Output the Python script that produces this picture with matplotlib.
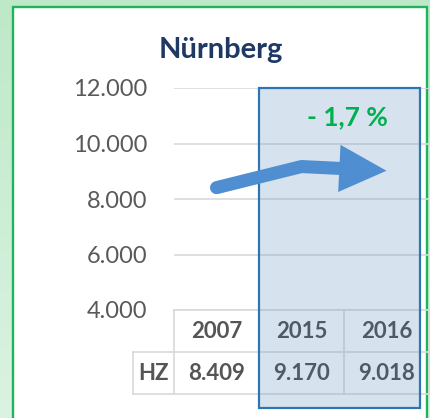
import matplotlib
matplotlib.use("Agg")
import matplotlib.pyplot as plt
import matplotlib.transforms as mtransforms
from matplotlib.patches import Rectangle
from matplotlib.colors import LinearSegmentedColormap
import numpy as np

plt.rcParams['font.family'] = ['Lato', 'DejaVu Sans']

# ---- data ----
title = "Nürnberg"
years = ["2007", "2015", "2016"]
values = [8409, 9170, 9018]
row_label = "HZ"
yticks = [4000, 6000, 8000, 10000, 12000]
highlight_from = 1  # index of first highlighted column

W, H = 431, 418
fig = plt.figure(figsize=(W / 100, H / 100), dpi=100)

# background gradient
bg = fig.add_axes([0, 0, 1, 1])
bg.axis("off")
cmap = LinearSegmentedColormap.from_list("g", ["#bde9c8", "#dbf3e2"])
bg.imshow(np.linspace(0, 1, 256).reshape(-1, 1), cmap=cmap, aspect="auto",
          extent=[0, 1, 0, 1])
bg.set_xlim(0, 1)
bg.set_ylim(0, 1)
bg.add_patch(Rectangle((13 / W, -0.05), (427 - 13) / W, (1 - 7 / H) + 0.05,
                       facecolor="white", edgecolor="#1fb35a", lw=1.7,
                       transform=bg.transAxes))

# main axes
ax = fig.add_axes([174 / W, 1 - 310 / H, 255 / W, 222 / H])
ax.set_facecolor("none")
ax.set_xlim(-0.5, 2.5)
ax.set_ylim(4000, 12000)
ax.set_yticks(yticks)
ax.set_yticklabels([f"{v:,.0f}".replace(",", ".") for v in yticks],
                   fontsize=17, color="#595959")
ax.tick_params(axis="y", length=0, pad=19)
ax.set_xticks([])
for s in ax.spines.values():
    s.set_visible(False)
ax.grid(axis="y", color="#d9d9d9", lw=1.2, zorder=0)
ax.set_axisbelow(True)

idx = np.arange(len(years))
trans = mtransforms.blended_transform_factory(ax.transData, ax.transAxes)
rh = 42 / 222
lc = "#d9d9d9"
lw_t = 1.2
xl = -0.98
# table lines
ax.plot([-0.5, 2.5], [0, 0], color=lc, lw=lw_t, transform=trans, clip_on=False, zorder=1)
for yy in (-rh, -2 * rh):
    ax.plot([xl, 2.5], [yy, yy], color=lc, lw=lw_t, transform=trans, clip_on=False, zorder=1)
ax.plot([xl, xl], [-rh, -2 * rh], color=lc, lw=lw_t, transform=trans, clip_on=False, zorder=1)
for xx in (-0.5, 0.5, 1.5, 2.5):
    ax.plot([xx, xx], [0, -2 * rh], color=lc, lw=lw_t, transform=trans, clip_on=False, zorder=1)
# table text
for i, (yr, v) in enumerate(zip(years, values)):
    tc = "#4f5a66" if i >= highlight_from else "#555555"
    ax.text(i, -rh / 2, yr, transform=trans, ha="center", va="center",
            fontsize=16, fontweight="bold", color=tc, zorder=4)
    ax.text(i, -1.5 * rh, f"{v:,.0f}".replace(",", "."), transform=trans,
            ha="center", va="center", fontsize=16, fontweight="bold",
            color=tc, zorder=4)
ax.text((xl - 0.5) / 2, -1.5 * rh, row_label, transform=trans, ha="center",
        va="center", fontsize=16, fontweight="bold", color="#555555", zorder=4)

# highlight rectangle (translucent tint)
ax.add_patch(Rectangle((highlight_from - 0.5, -98 / 222), (420 - 259) / 85, 1 + 98 / 222,
                       facecolor=(0.425, 0.607, 0.79, 0.28), edgecolor="#2e75b6",
                       lw=1.6, transform=trans, clip_on=False, zorder=3))

# arrow line
c = "#4f8fd1"
ax.plot(idx[:2], values[:2], color=c, lw=9.4, solid_capstyle="round",
        solid_joinstyle="miter", zorder=5, clip_on=False)
ax.annotate("", xy=(idx[2], values[2]), xytext=(idx[1], values[1]),
            arrowprops=dict(arrowstyle="simple,head_length=34,head_width=34,tail_width=9.4",
                            mutation_scale=1, color=c, lw=0, shrinkA=0, shrinkB=0),
            zorder=5)

# title and change label
fig.text(221 / W, 1 - 58 / H, title, ha="center", va="baseline", fontsize=21,
         fontweight="bold", color="#1f3864")
pct = (values[2] - values[1]) / values[1] * 100
sign = "-" if pct < 0 else "+"
pct_txt = f"{sign} {abs(pct):.1f} %".replace(".", ",")
fig.text(347 / W, 1 - 117 / H, pct_txt, ha="center", va="center", fontsize=19,
         fontweight="bold", color="#00b050")

fig.savefig("out.png", dpi=100)
